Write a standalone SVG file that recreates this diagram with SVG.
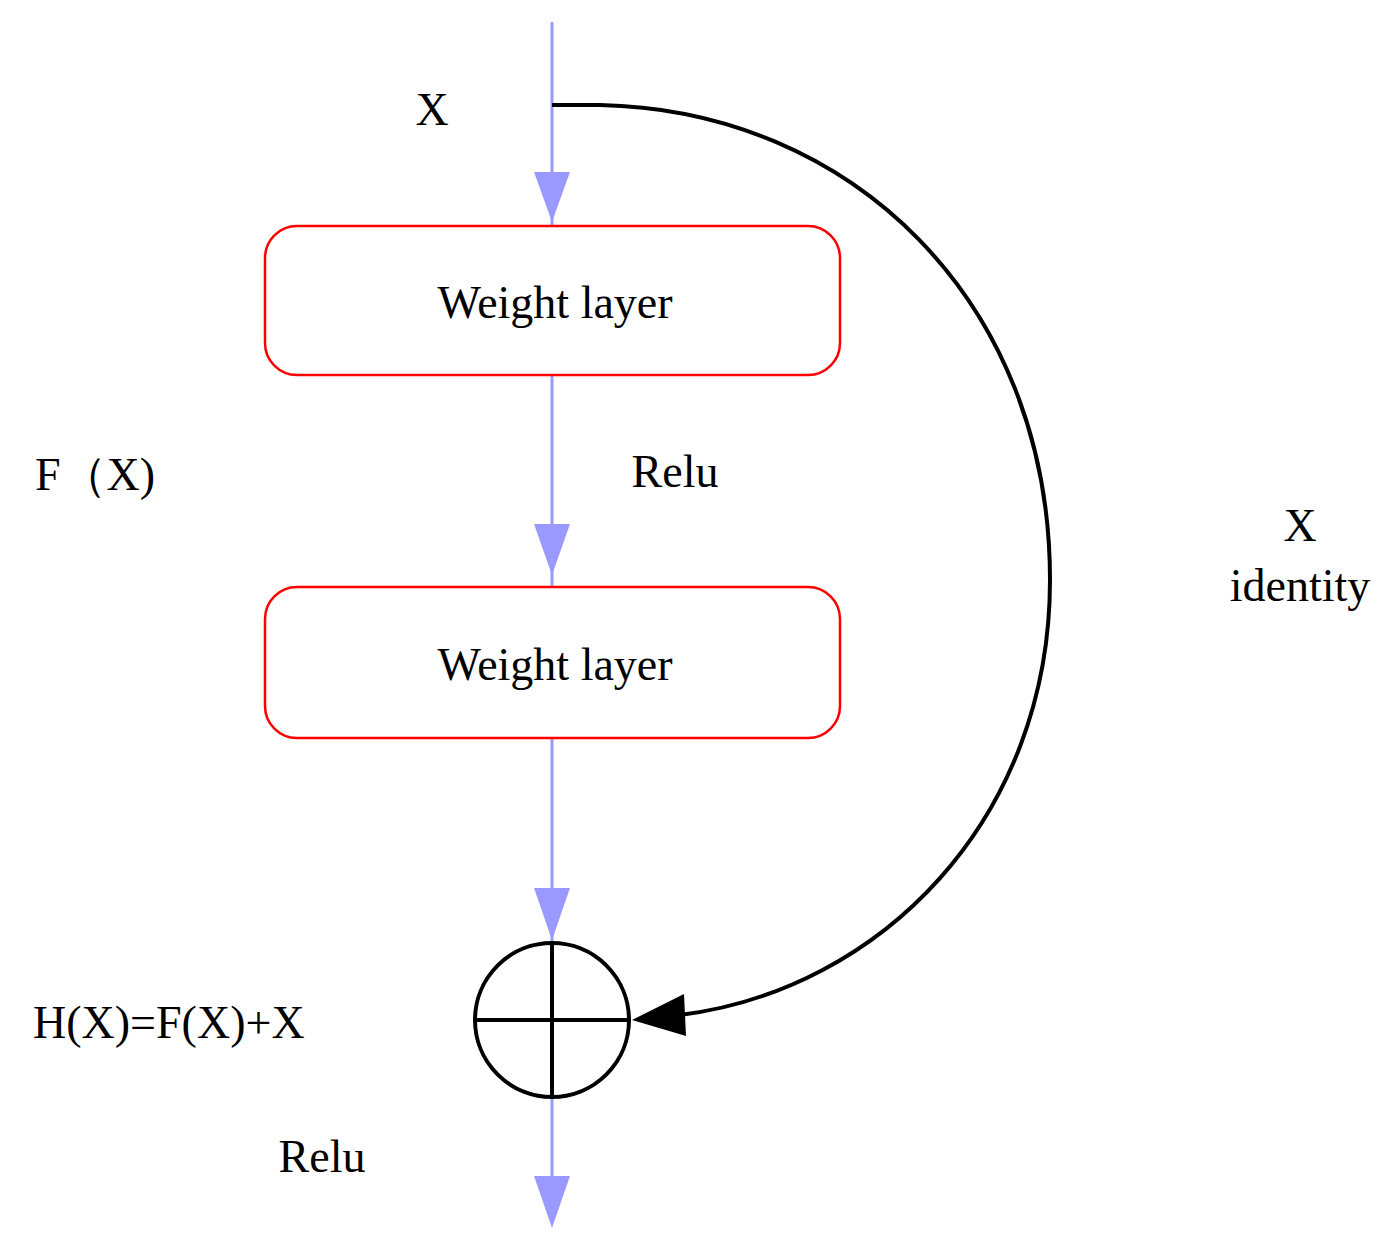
<svg xmlns="http://www.w3.org/2000/svg" width="1400" height="1255" viewBox="0 0 1400 1255">
<style>
.t{font-family:"Liberation Serif",serif;font-size:46px;fill:#000}
.box{fill:#fff;stroke:#ff0000;stroke-width:2.5}
.flow{stroke:#9999ff;stroke-width:3;fill:none}
.ah{fill:#9999ff}
</style>
<rect width="1400" height="1255" fill="#fff"/>
<g id="connectors">
<line class="flow" x1="552" y1="22" x2="552" y2="1205"/>
<polygon class="ah" points="534,172 570,172 552,222"/>
<polygon class="ah" points="534,524 570,524 552,575"/>
<polygon class="ah" points="534,888 570,888 552,940"/>
<polygon class="ah" points="534,1176 570,1176 552,1228"/>
<path d="M552,105 L600,105 C850,110 1050,300 1050,580 C1050,820 880,990 680,1015" fill="none" stroke="#000" stroke-width="4"/>
<polygon points="632,1020 684,994 686,1036" fill="#000"/>
</g>
<g id="box1"><rect class="box" x="265" y="226" width="575" height="149" rx="32"/><text class="t" x="555" y="318" text-anchor="middle">Weight layer</text></g>
<g id="box2"><rect class="box" x="265" y="587" width="575" height="151" rx="32"/><text class="t" x="555" y="680" text-anchor="middle">Weight layer</text></g>
<g id="sum"><circle cx="552" cy="1020" r="77" fill="none" stroke="#000" stroke-width="4"/><line x1="475" y1="1020" x2="629" y2="1020" stroke="#000" stroke-width="4"/><line x1="552" y1="943" x2="552" y2="1097" stroke="#000" stroke-width="4"/></g>
<g id="labels">
<text class="t" x="432" y="125" text-anchor="middle">X</text>
<text class="t" x="675" y="487" text-anchor="middle">Relu</text>
<text class="t" x="35" y="490">F（X)</text>
<text class="t" x="1300" y="541" text-anchor="middle">X</text>
<text class="t" x="1300" y="601" text-anchor="middle">identity</text>
<text class="t" x="33" y="1038">H(X)=F(X)+X</text>
<text class="t" x="322" y="1172" text-anchor="middle">Relu</text>
</g>
</svg>
